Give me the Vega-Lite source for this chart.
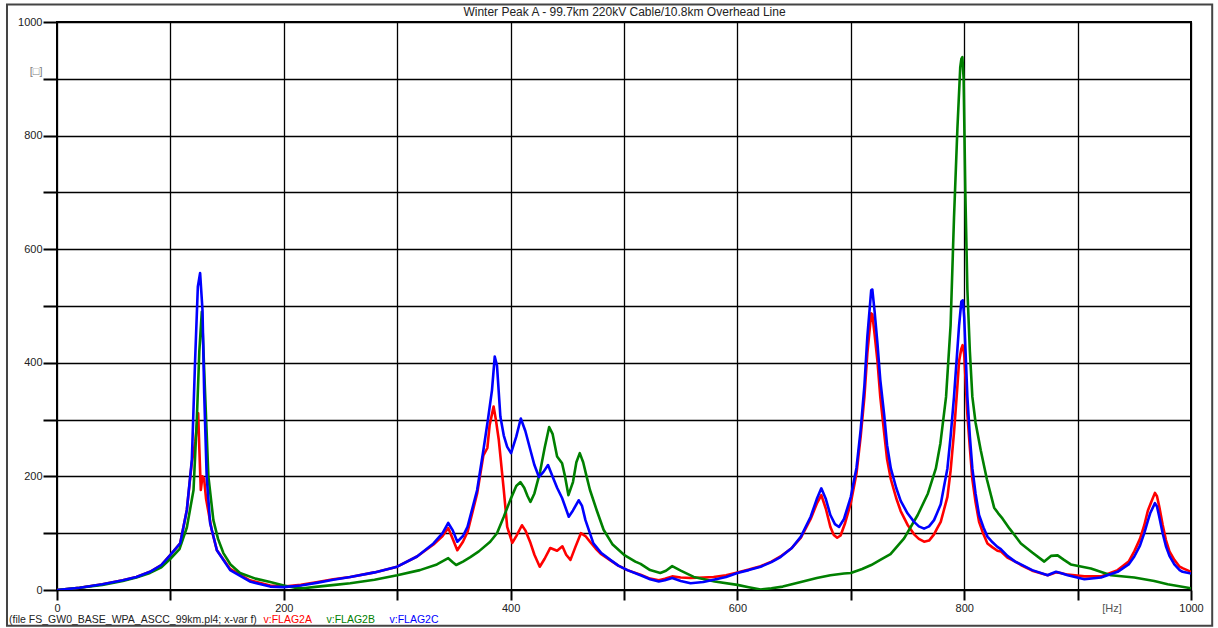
{
  "$schema": "https://vega.github.io/schema/vega-lite/v6.json",
  "width": 1134,
  "height": 568,
  "autosize": {"type": "none"},
  "padding": {"left": 57, "top": 22, "right": 27, "bottom": 38},
  "background": "white",
  "config": {
    "view": {"stroke": "black", "strokeWidth": 2},
    "font": "Liberation Sans"
  },
  "resolve": {"axis": {"x": "independent", "y": "independent"}},
  "datasets": {
    "flags": [
      {"s":"v:FLAG2A","f":0,"v":0},{"s":"v:FLAG2A","f":20,"v":4},{"s":"v:FLAG2A","f":40,"v":10},{"s":"v:FLAG2A","f":58,"v":17},{"s":"v:FLAG2A","f":70,"v":23},{"s":"v:FLAG2A","f":82,"v":32},{"s":"v:FLAG2A","f":92,"v":44},{"s":"v:FLAG2A","f":100,"v":62},{"s":"v:FLAG2A","f":108.6,"v":82},{"s":"v:FLAG2A","f":114.5,"v":141},{"s":"v:FLAG2A","f":118.9,"v":225},{"s":"v:FLAG2A","f":122,"v":262},{"s":"v:FLAG2A","f":124.5,"v":311},{"s":"v:FLAG2A","f":125.5,"v":250},{"s":"v:FLAG2A","f":126.8,"v":176},{"s":"v:FLAG2A","f":128.3,"v":200},{"s":"v:FLAG2A","f":129.7,"v":196},{"s":"v:FLAG2A","f":131.5,"v":160},{"s":"v:FLAG2A","f":136.4,"v":106},{"s":"v:FLAG2A","f":141,"v":70},{"s":"v:FLAG2A","f":152.7,"v":37},{"s":"v:FLAG2A","f":170,"v":17},{"s":"v:FLAG2A","f":188,"v":8},{"s":"v:FLAG2A","f":200,"v":6},{"s":"v:FLAG2A","f":215,"v":9},{"s":"v:FLAG2A","f":230,"v":14},{"s":"v:FLAG2A","f":243.6,"v":19},{"s":"v:FLAG2A","f":258.6,"v":23},{"s":"v:FLAG2A","f":280,"v":31},{"s":"v:FLAG2A","f":300,"v":41},{"s":"v:FLAG2A","f":317.5,"v":59},{"s":"v:FLAG2A","f":332,"v":80},{"s":"v:FLAG2A","f":340,"v":95},{"s":"v:FLAG2A","f":345,"v":109},{"s":"v:FLAG2A","f":349,"v":90},{"s":"v:FLAG2A","f":353,"v":70},{"s":"v:FLAG2A","f":358,"v":85},{"s":"v:FLAG2A","f":362,"v":102},{"s":"v:FLAG2A","f":370.5,"v":170},{"s":"v:FLAG2A","f":376,"v":237},{"s":"v:FLAG2A","f":379.5,"v":250},{"s":"v:FLAG2A","f":381.5,"v":290},{"s":"v:FLAG2A","f":385,"v":323},{"s":"v:FLAG2A","f":387,"v":300},{"s":"v:FLAG2A","f":389.6,"v":264},{"s":"v:FLAG2A","f":394,"v":176},{"s":"v:FLAG2A","f":397,"v":111},{"s":"v:FLAG2A","f":401.5,"v":83},{"s":"v:FLAG2A","f":405,"v":95},{"s":"v:FLAG2A","f":410,"v":114},{"s":"v:FLAG2A","f":413,"v":105},{"s":"v:FLAG2A","f":417.5,"v":83},{"s":"v:FLAG2A","f":421,"v":62},{"s":"v:FLAG2A","f":425.7,"v":41},{"s":"v:FLAG2A","f":430,"v":55},{"s":"v:FLAG2A","f":435,"v":74},{"s":"v:FLAG2A","f":441,"v":69},{"s":"v:FLAG2A","f":445.7,"v":77},{"s":"v:FLAG2A","f":449,"v":62},{"s":"v:FLAG2A","f":452.8,"v":53},{"s":"v:FLAG2A","f":457,"v":75},{"s":"v:FLAG2A","f":462,"v":100},{"s":"v:FLAG2A","f":466,"v":95},{"s":"v:FLAG2A","f":470,"v":85},{"s":"v:FLAG2A","f":475,"v":73},{"s":"v:FLAG2A","f":480,"v":63},{"s":"v:FLAG2A","f":488,"v":52},{"s":"v:FLAG2A","f":495,"v":43},{"s":"v:FLAG2A","f":503,"v":35},{"s":"v:FLAG2A","f":514.6,"v":27},{"s":"v:FLAG2A","f":523,"v":20},{"s":"v:FLAG2A","f":530.7,"v":17},{"s":"v:FLAG2A","f":536,"v":20},{"s":"v:FLAG2A","f":542.5,"v":24},{"s":"v:FLAG2A","f":550,"v":22},{"s":"v:FLAG2A","f":558.7,"v":21},{"s":"v:FLAG2A","f":570,"v":22},{"s":"v:FLAG2A","f":579,"v":23},{"s":"v:FLAG2A","f":590,"v":26},{"s":"v:FLAG2A","f":600,"v":31},{"s":"v:FLAG2A","f":610,"v":36},{"s":"v:FLAG2A","f":620.5,"v":42},{"s":"v:FLAG2A","f":630,"v":50},{"s":"v:FLAG2A","f":638,"v":59},{"s":"v:FLAG2A","f":648,"v":74},{"s":"v:FLAG2A","f":656,"v":92},{"s":"v:FLAG2A","f":664.6,"v":125},{"s":"v:FLAG2A","f":670,"v":152},{"s":"v:FLAG2A","f":674,"v":167},{"s":"v:FLAG2A","f":678,"v":143},{"s":"v:FLAG2A","f":682,"v":111},{"s":"v:FLAG2A","f":685,"v":97},{"s":"v:FLAG2A","f":688,"v":92},{"s":"v:FLAG2A","f":691,"v":96},{"s":"v:FLAG2A","f":695,"v":118},{"s":"v:FLAG2A","f":700,"v":153},{"s":"v:FLAG2A","f":705,"v":205},{"s":"v:FLAG2A","f":708.7,"v":270},{"s":"v:FLAG2A","f":712,"v":340},{"s":"v:FLAG2A","f":714.6,"v":417},{"s":"v:FLAG2A","f":718,"v":487},{"s":"v:FLAG2A","f":719,"v":485},{"s":"v:FLAG2A","f":721,"v":450},{"s":"v:FLAG2A","f":723.5,"v":403},{"s":"v:FLAG2A","f":726,"v":340},{"s":"v:FLAG2A","f":729.4,"v":277},{"s":"v:FLAG2A","f":732,"v":230},{"s":"v:FLAG2A","f":735.3,"v":195},{"s":"v:FLAG2A","f":740,"v":162},{"s":"v:FLAG2A","f":744,"v":139},{"s":"v:FLAG2A","f":750,"v":115},{"s":"v:FLAG2A","f":755.8,"v":98},{"s":"v:FLAG2A","f":760,"v":90},{"s":"v:FLAG2A","f":764.6,"v":85},{"s":"v:FLAG2A","f":769,"v":87},{"s":"v:FLAG2A","f":773.4,"v":98},{"s":"v:FLAG2A","f":776,"v":108},{"s":"v:FLAG2A","f":779.3,"v":120},{"s":"v:FLAG2A","f":782,"v":140},{"s":"v:FLAG2A","f":785.2,"v":164},{"s":"v:FLAG2A","f":788,"v":210},{"s":"v:FLAG2A","f":791,"v":277},{"s":"v:FLAG2A","f":793.5,"v":345},{"s":"v:FLAG2A","f":795.5,"v":403},{"s":"v:FLAG2A","f":797.5,"v":425},{"s":"v:FLAG2A","f":798.6,"v":431},{"s":"v:FLAG2A","f":800,"v":415},{"s":"v:FLAG2A","f":802.8,"v":309},{"s":"v:FLAG2A","f":805,"v":250},{"s":"v:FLAG2A","f":807.2,"v":195},{"s":"v:FLAG2A","f":810,"v":155},{"s":"v:FLAG2A","f":813.1,"v":120},{"s":"v:FLAG2A","f":817,"v":98},{"s":"v:FLAG2A","f":820.5,"v":82},{"s":"v:FLAG2A","f":825,"v":75},{"s":"v:FLAG2A","f":829.3,"v":69},{"s":"v:FLAG2A","f":832.3,"v":68},{"s":"v:FLAG2A","f":838.1,"v":57},{"s":"v:FLAG2A","f":845,"v":50},{"s":"v:FLAG2A","f":850,"v":44},{"s":"v:FLAG2A","f":860,"v":34},{"s":"v:FLAG2A","f":873.6,"v":26},{"s":"v:FLAG2A","f":877,"v":28},{"s":"v:FLAG2A","f":881,"v":31},{"s":"v:FLAG2A","f":885,"v":30},{"s":"v:FLAG2A","f":891.3,"v":27},{"s":"v:FLAG2A","f":906,"v":24},{"s":"v:FLAG2A","f":920.6,"v":24},{"s":"v:FLAG2A","f":935.3,"v":35},{"s":"v:FLAG2A","f":945,"v":50},{"s":"v:FLAG2A","f":950,"v":68},{"s":"v:FLAG2A","f":955,"v":90},{"s":"v:FLAG2A","f":958.8,"v":114},{"s":"v:FLAG2A","f":962,"v":140},{"s":"v:FLAG2A","f":964.6,"v":153},{"s":"v:FLAG2A","f":968.2,"v":171},{"s":"v:FLAG2A","f":970,"v":165},{"s":"v:FLAG2A","f":972,"v":147},{"s":"v:FLAG2A","f":975,"v":115},{"s":"v:FLAG2A","f":977.9,"v":88},{"s":"v:FLAG2A","f":981,"v":68},{"s":"v:FLAG2A","f":985.3,"v":53},{"s":"v:FLAG2A","f":990,"v":41},{"s":"v:FLAG2A","f":993,"v":38},{"s":"v:FLAG2A","f":1000,"v":32},

      {"s":"v:FLAG2B","f":0,"v":0},{"s":"v:FLAG2B","f":20,"v":4},{"s":"v:FLAG2B","f":40,"v":9},{"s":"v:FLAG2B","f":58,"v":16},{"s":"v:FLAG2B","f":70,"v":22},{"s":"v:FLAG2B","f":82,"v":30},{"s":"v:FLAG2B","f":92,"v":40},{"s":"v:FLAG2B","f":100,"v":55},{"s":"v:FLAG2B","f":108,"v":72},{"s":"v:FLAG2B","f":114.5,"v":110},{"s":"v:FLAG2B","f":120.4,"v":176},{"s":"v:FLAG2B","f":123.3,"v":300},{"s":"v:FLAG2B","f":125.5,"v":420},{"s":"v:FLAG2B","f":127.7,"v":490},{"s":"v:FLAG2B","f":129,"v":430},{"s":"v:FLAG2B","f":130.6,"v":346},{"s":"v:FLAG2B","f":133.5,"v":200},{"s":"v:FLAG2B","f":137.9,"v":123},{"s":"v:FLAG2B","f":142,"v":90},{"s":"v:FLAG2B","f":146.7,"v":65},{"s":"v:FLAG2B","f":153,"v":45},{"s":"v:FLAG2B","f":161.4,"v":30},{"s":"v:FLAG2B","f":175,"v":20},{"s":"v:FLAG2B","f":188,"v":14},{"s":"v:FLAG2B","f":200,"v":8},{"s":"v:FLAG2B","f":210,"v":4},{"s":"v:FLAG2B","f":217,"v":3},{"s":"v:FLAG2B","f":230,"v":6},{"s":"v:FLAG2B","f":245,"v":9},{"s":"v:FLAG2B","f":258.6,"v":12},{"s":"v:FLAG2B","f":280,"v":18},{"s":"v:FLAG2B","f":300,"v":26},{"s":"v:FLAG2B","f":320,"v":35},{"s":"v:FLAG2B","f":335,"v":45},{"s":"v:FLAG2B","f":345,"v":56},{"s":"v:FLAG2B","f":349,"v":49},{"s":"v:FLAG2B","f":352,"v":44},{"s":"v:FLAG2B","f":358,"v":50},{"s":"v:FLAG2B","f":364.5,"v":58},{"s":"v:FLAG2B","f":372,"v":68},{"s":"v:FLAG2B","f":382,"v":85},{"s":"v:FLAG2B","f":388,"v":100},{"s":"v:FLAG2B","f":394,"v":129},{"s":"v:FLAG2B","f":400,"v":160},{"s":"v:FLAG2B","f":405,"v":183},{"s":"v:FLAG2B","f":408.6,"v":190},{"s":"v:FLAG2B","f":412,"v":180},{"s":"v:FLAG2B","f":415,"v":165},{"s":"v:FLAG2B","f":417.5,"v":155},{"s":"v:FLAG2B","f":421,"v":170},{"s":"v:FLAG2B","f":426,"v":208},{"s":"v:FLAG2B","f":430,"v":250},{"s":"v:FLAG2B","f":434,"v":287},{"s":"v:FLAG2B","f":437,"v":275},{"s":"v:FLAG2B","f":441,"v":235},{"s":"v:FLAG2B","f":445.4,"v":223},{"s":"v:FLAG2B","f":448,"v":200},{"s":"v:FLAG2B","f":451,"v":167},{"s":"v:FLAG2B","f":455,"v":190},{"s":"v:FLAG2B","f":458,"v":225},{"s":"v:FLAG2B","f":461,"v":241},{"s":"v:FLAG2B","f":464,"v":225},{"s":"v:FLAG2B","f":467,"v":200},{"s":"v:FLAG2B","f":470,"v":176},{"s":"v:FLAG2B","f":476,"v":140},{"s":"v:FLAG2B","f":482,"v":106},{"s":"v:FLAG2B","f":490,"v":80},{"s":"v:FLAG2B","f":500,"v":62},{"s":"v:FLAG2B","f":510,"v":50},{"s":"v:FLAG2B","f":514.6,"v":46},{"s":"v:FLAG2B","f":523,"v":35},{"s":"v:FLAG2B","f":532,"v":30},{"s":"v:FLAG2B","f":537,"v":34},{"s":"v:FLAG2B","f":542.5,"v":42},{"s":"v:FLAG2B","f":550,"v":34},{"s":"v:FLAG2B","f":561.5,"v":23},{"s":"v:FLAG2B","f":580,"v":15},{"s":"v:FLAG2B","f":600,"v":9},{"s":"v:FLAG2B","f":610,"v":5},{"s":"v:FLAG2B","f":620.5,"v":1},{"s":"v:FLAG2B","f":630,"v":3},{"s":"v:FLAG2B","f":640,"v":6},{"s":"v:FLAG2B","f":656,"v":14},{"s":"v:FLAG2B","f":670,"v":21},{"s":"v:FLAG2B","f":682,"v":26},{"s":"v:FLAG2B","f":694,"v":29},{"s":"v:FLAG2B","f":700,"v":30},{"s":"v:FLAG2B","f":710,"v":37},{"s":"v:FLAG2B","f":718,"v":44},{"s":"v:FLAG2B","f":726,"v":53},{"s":"v:FLAG2B","f":735,"v":63},{"s":"v:FLAG2B","f":747,"v":91},{"s":"v:FLAG2B","f":759,"v":132},{"s":"v:FLAG2B","f":768,"v":170},{"s":"v:FLAG2B","f":775,"v":214},{"s":"v:FLAG2B","f":779,"v":258},{"s":"v:FLAG2B","f":784,"v":340},{"s":"v:FLAG2B","f":788,"v":466},{"s":"v:FLAG2B","f":791,"v":655},{"s":"v:FLAG2B","f":794,"v":812},{"s":"v:FLAG2B","f":796.5,"v":920},{"s":"v:FLAG2B","f":797.5,"v":935},{"s":"v:FLAG2B","f":798.4,"v":938},{"s":"v:FLAG2B","f":799.5,"v":900},{"s":"v:FLAG2B","f":801,"v":700},{"s":"v:FLAG2B","f":802.8,"v":529},{"s":"v:FLAG2B","f":805,"v":420},{"s":"v:FLAG2B","f":807.2,"v":340},{"s":"v:FLAG2B","f":810,"v":295},{"s":"v:FLAG2B","f":814.6,"v":246},{"s":"v:FLAG2B","f":820,"v":195},{"s":"v:FLAG2B","f":826.4,"v":145},{"s":"v:FLAG2B","f":830,"v":135},{"s":"v:FLAG2B","f":833.7,"v":126},{"s":"v:FLAG2B","f":840,"v":108},{"s":"v:FLAG2B","f":845,"v":95},{"s":"v:FLAG2B","f":850,"v":82},{"s":"v:FLAG2B","f":860,"v":66},{"s":"v:FLAG2B","f":870.6,"v":50},{"s":"v:FLAG2B","f":876.5,"v":60},{"s":"v:FLAG2B","f":882.4,"v":61},{"s":"v:FLAG2B","f":888,"v":53},{"s":"v:FLAG2B","f":894,"v":45},{"s":"v:FLAG2B","f":911.7,"v":38},{"s":"v:FLAG2B","f":929.4,"v":26},{"s":"v:FLAG2B","f":950,"v":22},{"s":"v:FLAG2B","f":967.6,"v":16},{"s":"v:FLAG2B","f":979.4,"v":10},{"s":"v:FLAG2B","f":1000,"v":3},

      {"s":"v:FLAG2C","f":0,"v":0},{"s":"v:FLAG2C","f":20,"v":4},{"s":"v:FLAG2C","f":40,"v":10},{"s":"v:FLAG2C","f":58,"v":17},{"s":"v:FLAG2C","f":70,"v":23},{"s":"v:FLAG2C","f":82,"v":32},{"s":"v:FLAG2C","f":92,"v":44},{"s":"v:FLAG2C","f":100,"v":62},{"s":"v:FLAG2C","f":108.6,"v":82},{"s":"v:FLAG2C","f":114.5,"v":141},{"s":"v:FLAG2C","f":118.9,"v":229},{"s":"v:FLAG2C","f":121.8,"v":405},{"s":"v:FLAG2C","f":124.2,"v":534},{"s":"v:FLAG2C","f":126.2,"v":558},{"s":"v:FLAG2C","f":128.3,"v":493},{"s":"v:FLAG2C","f":129.8,"v":346},{"s":"v:FLAG2C","f":132,"v":200},{"s":"v:FLAG2C","f":135,"v":118},{"s":"v:FLAG2C","f":141,"v":70},{"s":"v:FLAG2C","f":152.7,"v":35},{"s":"v:FLAG2C","f":170,"v":15},{"s":"v:FLAG2C","f":188,"v":6},{"s":"v:FLAG2C","f":200,"v":5},{"s":"v:FLAG2C","f":215,"v":8},{"s":"v:FLAG2C","f":230,"v":13},{"s":"v:FLAG2C","f":243.6,"v":18},{"s":"v:FLAG2C","f":258.6,"v":23},{"s":"v:FLAG2C","f":280,"v":31},{"s":"v:FLAG2C","f":300,"v":41},{"s":"v:FLAG2C","f":317.5,"v":59},{"s":"v:FLAG2C","f":332,"v":82},{"s":"v:FLAG2C","f":340,"v":100},{"s":"v:FLAG2C","f":345,"v":118},{"s":"v:FLAG2C","f":349,"v":105},{"s":"v:FLAG2C","f":353,"v":85},{"s":"v:FLAG2C","f":358,"v":95},{"s":"v:FLAG2C","f":362,"v":111},{"s":"v:FLAG2C","f":370.5,"v":176},{"s":"v:FLAG2C","f":376,"v":246},{"s":"v:FLAG2C","f":380,"v":300},{"s":"v:FLAG2C","f":383.6,"v":352},{"s":"v:FLAG2C","f":386,"v":411},{"s":"v:FLAG2C","f":388,"v":395},{"s":"v:FLAG2C","f":391,"v":305},{"s":"v:FLAG2C","f":394,"v":272},{"s":"v:FLAG2C","f":397,"v":252},{"s":"v:FLAG2C","f":400.4,"v":241},{"s":"v:FLAG2C","f":405,"v":270},{"s":"v:FLAG2C","f":409,"v":302},{"s":"v:FLAG2C","f":413,"v":280},{"s":"v:FLAG2C","f":417.5,"v":246},{"s":"v:FLAG2C","f":421,"v":220},{"s":"v:FLAG2C","f":425,"v":199},{"s":"v:FLAG2C","f":429,"v":208},{"s":"v:FLAG2C","f":433,"v":220},{"s":"v:FLAG2C","f":437,"v":200},{"s":"v:FLAG2C","f":441,"v":180},{"s":"v:FLAG2C","f":445.4,"v":162},{"s":"v:FLAG2C","f":451.3,"v":129},{"s":"v:FLAG2C","f":455,"v":140},{"s":"v:FLAG2C","f":460,"v":158},{"s":"v:FLAG2C","f":463,"v":148},{"s":"v:FLAG2C","f":466,"v":123},{"s":"v:FLAG2C","f":473,"v":82},{"s":"v:FLAG2C","f":480,"v":65},{"s":"v:FLAG2C","f":488,"v":53},{"s":"v:FLAG2C","f":495,"v":43},{"s":"v:FLAG2C","f":503,"v":35},{"s":"v:FLAG2C","f":514.6,"v":26},{"s":"v:FLAG2C","f":523,"v":19},{"s":"v:FLAG2C","f":530.7,"v":15},{"s":"v:FLAG2C","f":536,"v":17},{"s":"v:FLAG2C","f":542.5,"v":21},{"s":"v:FLAG2C","f":550,"v":16},{"s":"v:FLAG2C","f":558.7,"v":12},{"s":"v:FLAG2C","f":570,"v":14},{"s":"v:FLAG2C","f":579,"v":18},{"s":"v:FLAG2C","f":590,"v":23},{"s":"v:FLAG2C","f":600,"v":30},{"s":"v:FLAG2C","f":610,"v":35},{"s":"v:FLAG2C","f":620.5,"v":41},{"s":"v:FLAG2C","f":630,"v":49},{"s":"v:FLAG2C","f":638,"v":58},{"s":"v:FLAG2C","f":648,"v":74},{"s":"v:FLAG2C","f":656,"v":94},{"s":"v:FLAG2C","f":664.6,"v":129},{"s":"v:FLAG2C","f":670,"v":160},{"s":"v:FLAG2C","f":674,"v":179},{"s":"v:FLAG2C","f":678,"v":160},{"s":"v:FLAG2C","f":682,"v":132},{"s":"v:FLAG2C","f":686,"v":116},{"s":"v:FLAG2C","f":689.6,"v":111},{"s":"v:FLAG2C","f":694,"v":125},{"s":"v:FLAG2C","f":700,"v":164},{"s":"v:FLAG2C","f":705,"v":215},{"s":"v:FLAG2C","f":708.7,"v":282},{"s":"v:FLAG2C","f":712,"v":360},{"s":"v:FLAG2C","f":714.6,"v":446},{"s":"v:FLAG2C","f":718,"v":528},{"s":"v:FLAG2C","f":719,"v":529},{"s":"v:FLAG2C","f":721,"v":490},{"s":"v:FLAG2C","f":723.5,"v":434},{"s":"v:FLAG2C","f":726,"v":370},{"s":"v:FLAG2C","f":729.4,"v":309},{"s":"v:FLAG2C","f":732,"v":255},{"s":"v:FLAG2C","f":735.3,"v":214},{"s":"v:FLAG2C","f":740,"v":180},{"s":"v:FLAG2C","f":744,"v":157},{"s":"v:FLAG2C","f":750,"v":135},{"s":"v:FLAG2C","f":755.8,"v":120},{"s":"v:FLAG2C","f":760,"v":112},{"s":"v:FLAG2C","f":764.6,"v":108},{"s":"v:FLAG2C","f":769,"v":112},{"s":"v:FLAG2C","f":773.4,"v":123},{"s":"v:FLAG2C","f":776,"v":135},{"s":"v:FLAG2C","f":779.3,"v":151},{"s":"v:FLAG2C","f":782,"v":180},{"s":"v:FLAG2C","f":785.2,"v":214},{"s":"v:FLAG2C","f":788,"v":270},{"s":"v:FLAG2C","f":791,"v":340},{"s":"v:FLAG2C","f":793.5,"v":410},{"s":"v:FLAG2C","f":795.5,"v":466},{"s":"v:FLAG2C","f":797.5,"v":508},{"s":"v:FLAG2C","f":798.8,"v":510},{"s":"v:FLAG2C","f":800,"v":480},{"s":"v:FLAG2C","f":802.8,"v":340},{"s":"v:FLAG2C","f":805,"v":270},{"s":"v:FLAG2C","f":807.2,"v":214},{"s":"v:FLAG2C","f":810,"v":170},{"s":"v:FLAG2C","f":813.1,"v":132},{"s":"v:FLAG2C","f":817,"v":110},{"s":"v:FLAG2C","f":820.5,"v":94},{"s":"v:FLAG2C","f":825,"v":84},{"s":"v:FLAG2C","f":829.3,"v":76},{"s":"v:FLAG2C","f":832.3,"v":72},{"s":"v:FLAG2C","f":838.1,"v":60},{"s":"v:FLAG2C","f":845,"v":50},{"s":"v:FLAG2C","f":850,"v":45},{"s":"v:FLAG2C","f":860,"v":35},{"s":"v:FLAG2C","f":873.6,"v":26},{"s":"v:FLAG2C","f":877,"v":29},{"s":"v:FLAG2C","f":881,"v":32},{"s":"v:FLAG2C","f":885,"v":30},{"s":"v:FLAG2C","f":891.3,"v":26},{"s":"v:FLAG2C","f":906,"v":19},{"s":"v:FLAG2C","f":920.6,"v":22},{"s":"v:FLAG2C","f":935.3,"v":32},{"s":"v:FLAG2C","f":945,"v":45},{"s":"v:FLAG2C","f":950,"v":59},{"s":"v:FLAG2C","f":955,"v":78},{"s":"v:FLAG2C","f":958.8,"v":100},{"s":"v:FLAG2C","f":962,"v":122},{"s":"v:FLAG2C","f":964,"v":135},{"s":"v:FLAG2C","f":968.2,"v":153},{"s":"v:FLAG2C","f":970,"v":147},{"s":"v:FLAG2C","f":972,"v":129},{"s":"v:FLAG2C","f":975,"v":100},{"s":"v:FLAG2C","f":977.9,"v":77},{"s":"v:FLAG2C","f":981,"v":60},{"s":"v:FLAG2C","f":985.3,"v":45},{"s":"v:FLAG2C","f":990,"v":35},{"s":"v:FLAG2C","f":992.6,"v":32},{"s":"v:FLAG2C","f":1000,"v":29}
    ]
  },
  "layer": [
    {
      "description": "outer frame around the whole figure; its top axis carries the chart heading",
      "data": {"values": [{}]},
      "mark": {"type": "rect", "fill": "transparent", "stroke": "#444444", "strokeWidth": 2, "clip": false},
      "encoding": {
        "x": {
          "datum": -44.1,
          "type": "quantitative",
          "scale": {"domain": [0, 1000], "nice": false, "zero": false},
          "axis": {
            "orient": "top",
            "title": "Winter Peak A - 99.7km 220kV Cable/10.8km Overhead Line",
            "titleFont": "Liberation Sans",
            "titleFontSize": 12,
            "titleFontWeight": "normal",
            "titleColor": "#222222",
            "titleBaseline": "bottom",
            "titlePadding": 4,
            "labels": false,
            "ticks": false,
            "grid": false,
            "domain": false
          }
        },
        "x2": {"datum": 1018.7},
        "y": {"datum": 1031, "type": "quantitative", "scale": {"domain": [0, 1000], "nice": false, "zero": false}, "axis": null},
        "y2": {"datum": -63}
      }
    },
    {
      "data": {"name": "flags"},
      "mark": {"type": "line", "strokeWidth": 2.6, "clip": true, "strokeJoin": "round"},
      "encoding": {
        "x": {
          "field": "f",
          "type": "quantitative",
          "scale": {"domain": [0, 1000], "nice": false, "zero": false},
          "axis": {
            "title": null,
            "values": [0, 100, 200, 300, 400, 500, 600, 700, 800, 900, 1000],
            "format": "d",
            "labelExpr": "datum.value == 900 ? '[Hz]' : (datum.value % 200 == 0 ? datum.label : '')",
            "grid": true,
            "gridColor": "black",
            "gridWidth": 1.3,
            "domain": false,
            "ticks": true,
            "tickColor": "black",
            "tickWidth": 2,
            "tickSize": 10,
            "labelFont": "Liberation Sans",
            "labelFontSize": 11,
            "labelColor": {"condition": {"test": "datum.value == 900", "value": "#555555"}, "value": "#222222"},
            "labelOffset": {"condition": {"test": "datum.value == 900", "value": 34}, "value": 0},
            "labelPadding": 2,
            "labelFlush": false,
            "labelOverlap": false
          }
        },
        "y": {
          "field": "v",
          "type": "quantitative",
          "scale": {"domain": [0, 1000], "nice": false, "zero": false},
          "axis": {
            "title": null,
            "values": [0, 100, 200, 300, 400, 500, 600, 700, 800, 900, 1000],
            "format": "d",
            "labelExpr": "datum.value == 900 ? '[□]' : (datum.value % 200 == 0 ? datum.label : '')",
            "grid": true,
            "gridColor": "black",
            "gridWidth": 1.3,
            "domain": false,
            "ticks": true,
            "tickColor": "black",
            "tickWidth": 2,
            "tickSize": 14,
            "labelFont": "Liberation Sans",
            "labelFontSize": 11,
            "labelColor": {"condition": {"test": "datum.value == 900", "value": "#808080"}, "value": "#222222"},
            "labelOffset": {"condition": {"test": "datum.value == 900", "value": -7}, "value": 0},
            "labelPadding": 1,
            "labelFlush": false,
            "labelOverlap": false
          }
        },
        "color": {
          "field": "s",
          "type": "nominal",
          "scale": {"domain": ["v:FLAG2A", "v:FLAG2B", "v:FLAG2C"], "range": ["#ff0000", "#008000", "#0000ff"]},
          "legend": {
            "orient": "none",
            "legendX": -48,
            "legendY": 593,
            "direction": "horizontal",
            "title": "(file FS_GW0_BASE_WPA_ASCC_99km.pl4; x-var f)",
            "titleOrient": "left",
            "titleLimit": 500,
            "titleFont": "Liberation Sans",
            "titleFontSize": 10.5,
            "titleFontWeight": "normal",
            "titleColor": "#222222",
            "titlePadding": -4,
            "labelFont": "Liberation Sans",
            "labelFontSize": 10.5,
            "symbolSize": 0,
            "symbolOpacity": 0,
            "symbolStrokeWidth": 0,
            "labelOffset": 0,
            "columnPadding": 4,
            "encode": {"labels": {"update": {"fill": {"scale": "color", "field": "value"}}}}
          }
        }
      }
    }
  ]
}
